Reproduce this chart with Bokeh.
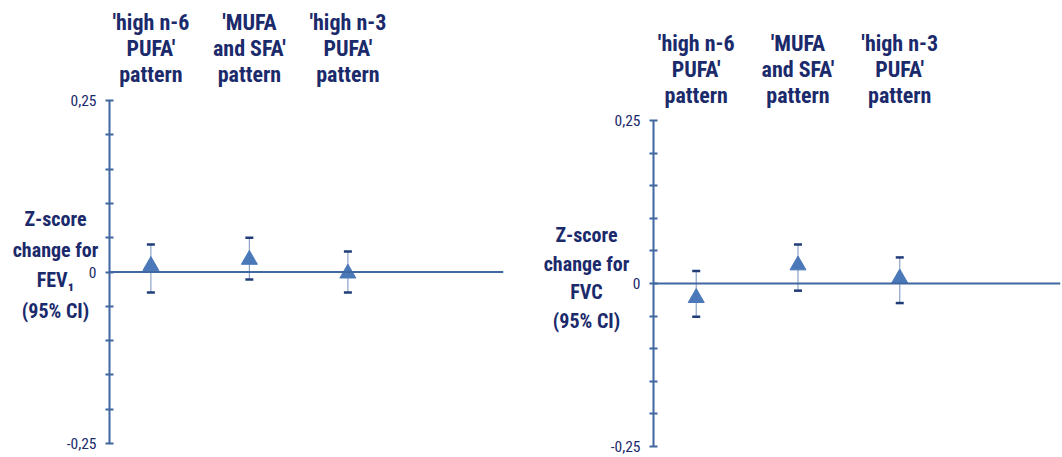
from bokeh.plotting import figure
from bokeh.models import (ColumnDataSource, Range1d, FixedTicker, LinearAxis,
                          Span, Whisker, TeeHead)
from bokeh.core.properties import value
from bokeh.layouts import row
from bokeh.embed import file_html
from bokeh.resources import INLINE

# ---- data ----
categories = ["'high n-6\nPUFA'\npattern", "'MUFA\nand SFA'\npattern", "'high n-3\nPUFA'\npattern"]
fev1_est = [0.009, 0.018, -0.002]
fev1_lower = [-0.030, -0.011, -0.030]
fev1_upper = [0.040, 0.050, 0.030]
fvc_est = [-0.022, 0.028, 0.008]
fvc_lower = [-0.051, -0.011, -0.030]
fvc_upper = [0.019, 0.060, 0.040]
y_ticks = [-0.25, -0.20, -0.15, -0.10, -0.05, 0.0, 0.05, 0.10, 0.15, 0.20, 0.25]
y_label_ticks = [0.25, 0.0, -0.25]
y_label_texts = ["0,25", "0", "-0,25"]

FONT = "Roboto Condensed, Roboto"
NAVY = "#1b2a6b"
AXIS_BLUE = "#3f67a0"
TRI_BLUE = "#4a78b8"
CAT_OFFSET = 0.42
Y0, Y1 = -0.25, 0.25
HEIGHT = 457


def y_range_for(top_px, bottom_px):
    """Full-height frame; axis from Y1 at top_px to Y0 at bottom_px (pixels from top)."""
    k = (Y1 - Y0) / (bottom_px - top_px)
    return Range1d(Y0 - (HEIGHT - bottom_px) * k, Y1 + top_px * k), k


def base_fig(width, x_range, y_range, left=0, right=0):
    p = figure(width=width, height=HEIGHT, output_backend="svg", toolbar_location=None,
               x_range=x_range, y_range=y_range,
               x_axis_location=None, y_axis_location=None,
               min_border_left=left, min_border_right=right,
               min_border_top=0, min_border_bottom=0)
    p.outline_line_color = None
    p.xgrid.visible = False
    p.ygrid.visible = False
    return p


def label_fig(width, y_range, ylabel, ylabel_x, ylabel_y, tick_x, lh):
    p = base_fig(width, Range1d(0, width), y_range)
    src = ColumnDataSource(dict(x=[tick_x] * len(y_label_ticks), y=y_label_ticks, t=y_label_texts))
    p.text("x", "y", text="t", source=src, text_font=value(FONT), text_font_size="15.5px",
           text_color=NAVY, text_align="right", text_baseline="middle")
    p.text(x=[ylabel_x], y=[ylabel_y], text=[ylabel], text_font=value(FONT),
           text_font_style="bold", text_font_size="20px", text_color=NAVY,
           text_align="center", text_baseline="middle", text_line_height=lh)
    return p


def panel_fig(est, lower, upper, width, y_range, right, head_y):
    xs = [i + CAT_OFFSET for i in range(len(categories))]
    src = ColumnDataSource(dict(x=xs, est=est, lower=lower, upper=upper))
    p = base_fig(width, Range1d(0, 4), y_range, left=10, right=right)

    yax = LinearAxis(ticker=FixedTicker(ticks=y_ticks), bounds=(Y0, Y1))
    yax.major_label_overrides = {t: "" for t in y_ticks}
    yax.major_label_text_font_size = "0px"
    yax.major_label_standoff = 0
    yax.axis_line_color = AXIS_BLUE
    yax.axis_line_width = 2
    yax.major_tick_line_color = AXIS_BLUE
    yax.major_tick_line_width = 2
    yax.major_tick_in = 4
    yax.major_tick_out = 4
    yax.minor_tick_line_color = None
    p.add_layout(yax, "left")

    # category headers
    hsrc = ColumnDataSource(dict(x=xs, y=[head_y] * len(xs), t=categories))
    p.text("x", "y", text="t", source=hsrc, text_font=value(FONT), text_font_style="bold",
           text_font_size="22px", text_color=NAVY, text_align="center",
           text_baseline="middle", text_line_height=1.04)

    p.add_layout(Span(location=0, dimension="width", line_color=AXIS_BLUE, line_width=2))

    w = Whisker(source=src, base="x", upper="upper", lower="lower",
                line_color="#8ba2c8", line_width=1.2,
                upper_head=TeeHead(size=8, line_color="#1f3c78", line_width=2.5),
                lower_head=TeeHead(size=8, line_color="#1f3c78", line_width=2.5))
    p.add_layout(w)

    p.scatter("x", "est", source=src, marker="triangle", size=16,
              fill_color=TRI_BLUE, line_color=TRI_BLUE, line_width=1)
    return p


# left chart (FEV1): axis x=109, frame right 503, 0.25 at y=100, -0.25 at y=443
lyr, lk = y_range_for(100, 443)
la = label_fig(99, lyr, "Z-score\nchange for\nFEV\u2081\n(95% CI)", 55, 7 * lk, 96, 1.28)
lb = panel_fig(fev1_est, fev1_lower, fev1_upper, width=421, y_range=lyr, right=17,
               head_y=Y1 + (100 - 47.5) * lk)
# right chart (FVC): axis x=653, frame right 1060, 0.25 at y=120, -0.25 at y=446
ryr, rk = y_range_for(120, 446)
ra = label_fig(123, ryr, "Z-score\nchange for\nFVC\n(95% CI)", 66, 5.5 * rk, 120, 1.2)
rb = panel_fig(fvc_est, fvc_lower, fvc_upper, width=419, y_range=ryr, right=2,
               head_y=Y1 + (120 - 69) * rk)

layout = row(la, lb, ra, rb)
open("out.html", "w").write(file_html(layout, INLINE))
